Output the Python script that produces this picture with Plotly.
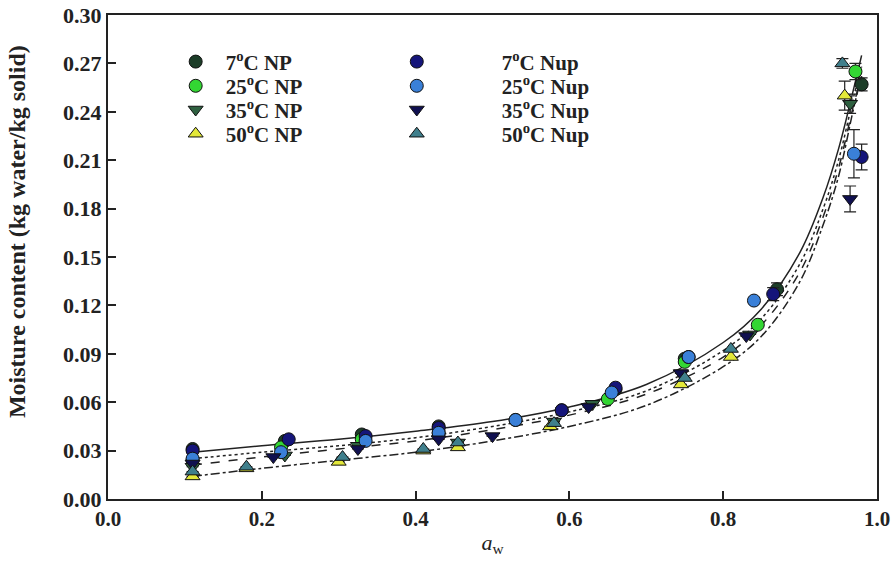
import plotly.graph_objects as go

# ---- data ----
names = ["7<sup>o</sup>C NP", "25<sup>o</sup>C NP", "35<sup>o</sup>C NP", "50<sup>o</sup>C NP",
         "7<sup>o</sup>C Nup", "25<sup>o</sup>C Nup", "35<sup>o</sup>C Nup", "50<sup>o</sup>C Nup"]

aw_7np = [0.11, 0.23, 0.33, 0.43, 0.59, 0.66, 0.75, 0.87, 0.98]
mc_7np = [0.031, 0.036, 0.040, 0.045, 0.055, 0.068, 0.087, 0.130, 0.257]
er_7np = [0, 0, 0, 0, 0, 0, 0, 0.004, 0.004]

aw_25np = [0.11, 0.225, 0.33, 0.43, 0.53, 0.65, 0.75, 0.845, 0.972]
mc_25np = [0.024, 0.032, 0.037, 0.041, 0.049, 0.062, 0.085, 0.108, 0.265]
er_25np = [0, 0, 0, 0, 0, 0, 0, 0, 0.005]

aw_35np = [0.11, 0.23, 0.325, 0.455, 0.58, 0.63, 0.745, 0.835, 0.965]
mc_35np = [0.020, 0.027, 0.033, 0.035, 0.048, 0.059, 0.078, 0.102, 0.245]
er_35np = [0, 0, 0, 0, 0, 0, 0, 0, 0.006]

aw_50np = [0.11, 0.18, 0.30, 0.41, 0.455, 0.575, 0.745, 0.81, 0.958]
mc_50np = [0.014, 0.019, 0.023, 0.030, 0.032, 0.045, 0.071, 0.088, 0.250]
er_50np = [0, 0, 0, 0, 0, 0, 0, 0, 0.009]

aw_7nup = [0.11, 0.235, 0.335, 0.43, 0.59, 0.66, 0.755, 0.865, 0.98]
mc_7nup = [0.030, 0.037, 0.039, 0.044, 0.055, 0.069, 0.088, 0.127, 0.212]
er_7nup = [0, 0, 0, 0, 0, 0, 0, 0.004, 0.008]

aw_25nup = [0.11, 0.225, 0.335, 0.43, 0.53, 0.655, 0.755, 0.84, 0.97]
mc_25nup = [0.025, 0.029, 0.036, 0.041, 0.049, 0.066, 0.088, 0.123, 0.214]
er_25nup = [0, 0, 0, 0, 0, 0, 0, 0, 0.015]

aw_35nup = [0.11, 0.215, 0.325, 0.43, 0.50, 0.625, 0.745, 0.83, 0.965]
mc_35nup = [0.022, 0.026, 0.031, 0.037, 0.039, 0.057, 0.078, 0.101, 0.186]
er_35nup = [0, 0, 0, 0, 0, 0, 0, 0, 0.008]

aw_50nup = [0.11, 0.18, 0.305, 0.41, 0.455, 0.58, 0.75, 0.81, 0.955]
mc_50nup = [0.017, 0.020, 0.026, 0.031, 0.035, 0.047, 0.075, 0.093, 0.270]
er_50nup = [0, 0, 0, 0, 0, 0, 0, 0, 0.003]

# fitted curves
aw_fit = [0.11, 0.2, 0.3, 0.4, 0.5, 0.6, 0.7, 0.8, 0.85, 0.9, 0.93, 0.95, 0.97, 0.98]
fit_solid = [0.029, 0.033, 0.037, 0.042, 0.048, 0.057, 0.071, 0.097, 0.118, 0.153, 0.187, 0.217, 0.255, 0.275]
fit_dot = [0.025, 0.029, 0.033, 0.038, 0.045, 0.054, 0.067, 0.092, 0.112, 0.146, 0.180, 0.210, 0.250, 0.268]
fit_dash = [0.021, 0.026, 0.031, 0.036, 0.043, 0.052, 0.065, 0.088, 0.108, 0.141, 0.175, 0.205, 0.245, 0.262]
fit_dashdot = [0.014, 0.019, 0.024, 0.029, 0.036, 0.045, 0.058, 0.082, 0.101, 0.135, 0.170, 0.200, 0.243, 0.262]

x_ticks = [0, 0.2, 0.4, 0.6, 0.8, 1.0]
x_labels = ["0.0", "0.2", "0.4", "0.6", "0.8", "1.0"]
y_ticks = [0, 0.03, 0.06, 0.09, 0.12, 0.15, 0.18, 0.21, 0.24, 0.27, 0.30]
y_title = "Moisture content (kg water/kg solid)"
x_title = "<i>a</i><sub>w</sub>"

series = [
    (aw_7np, mc_7np, er_7np, "circle", "#1c3d28"),
    (aw_25np, mc_25np, er_25np, "circle", "#33d633"),
    (aw_35np, mc_35np, er_35np, "triangle-down", "#2e6040"),
    (aw_50np, mc_50np, er_50np, "triangle-up", "#e3e83a"),
    (aw_7nup, mc_7nup, er_7nup, "circle", "#15157a"),
    (aw_25nup, mc_25nup, er_25nup, "circle", "#3a80d8"),
    (aw_35nup, mc_35nup, er_35nup, "triangle-down", "#101050"),
    (aw_50nup, mc_50nup, er_50nup, "triangle-up", "#3f7f8c"),
]

fig = go.Figure()

for ys, dash in [(fit_solid, "solid"), (fit_dot, "dot"), (fit_dash, "dash"), (fit_dashdot, "dashdot")]:
    fig.add_trace(go.Scatter(x=aw_fit, y=ys, mode="lines",
                             line=dict(color="#222", width=1.5, dash=dash, shape="spline"),
                             showlegend=False, hoverinfo="skip"))

legend_ids = ["legend"] + ["legend%d" % i for i in range(2, 9)]
for name, lg, (xs, ys, er, sym, col) in zip(names, legend_ids, series):
    fig.add_trace(go.Scatter(
        x=xs, y=ys, mode="markers", name=name, legend=lg,
        error_y=dict(type="data", array=er, visible=True, color="#222", thickness=1.2, width=6),
        marker=dict(symbol=sym, size=13, color=col, line=dict(color="#111", width=1)),
    ))

font_main = "Liberation Serif"
legend_font = dict(family=font_main, size=21, color="#222", weight="bold")
row_y = [0.903, 0.853, 0.804, 0.754]
legend_layout = {}
for i, lg in enumerate(legend_ids):
    col, row = divmod(i, 4)
    legend_layout[lg] = dict(
        x=0.075 if col == 0 else 0.291, y=row_y[row], xanchor="left", yanchor="middle",
        bgcolor="rgba(0,0,0,0)", font=legend_font, itemwidth=50 if col == 0 else 160)

fig.update_layout(
    width=895, height=566,
    margin=dict(l=108, r=18, t=15, b=67, autoexpand=False),
    paper_bgcolor="white", plot_bgcolor="white",
    font=dict(family=font_main, size=18, color="#222"),
    xaxis=dict(range=[0, 1.0], tickvals=x_ticks, ticktext=x_labels, automargin=False,
               ticks="inside", ticklen=8, tickwidth=1.5, tickcolor="#222",
               showline=True, linecolor="#222", linewidth=2, mirror=True, showgrid=False, zeroline=False,
               tickfont=dict(family=font_main, size=21, color="#222", weight="bold"),
               title=dict(text=x_title, font=dict(family=font_main, size=22, color="#222"),
                          standoff=4)),
    yaxis=dict(range=[0, 0.30], tickvals=y_ticks, tickformat=".2f", automargin=False,
               ticks="inside", ticklen=8, tickwidth=1.5, tickcolor="#222",
               showline=True, linecolor="#222", linewidth=2, mirror=True, showgrid=False, zeroline=False,
               tickfont=dict(family=font_main, size=22, color="#222", weight="bold")),
    annotations=[dict(text=y_title, xref="paper", yref="paper", x=-0.118, y=0.552,
                      xanchor="center", yanchor="middle", textangle=-90, showarrow=False,
                      font=dict(family=font_main, size=24, color="#222", weight="bold"))],
    **legend_layout,
)

fig.write_html("out.html", config={"displayModeBar": False})

# remove the default page margin so the figure sits at the window origin
with open("out.html", encoding="utf-8") as f:
    html = f.read()
html = html.replace("<head>", "<head><style>html,body{margin:0;padding:0;overflow:hidden}</style>", 1)
with open("out.html", "w", encoding="utf-8") as f:
    f.write(html)
